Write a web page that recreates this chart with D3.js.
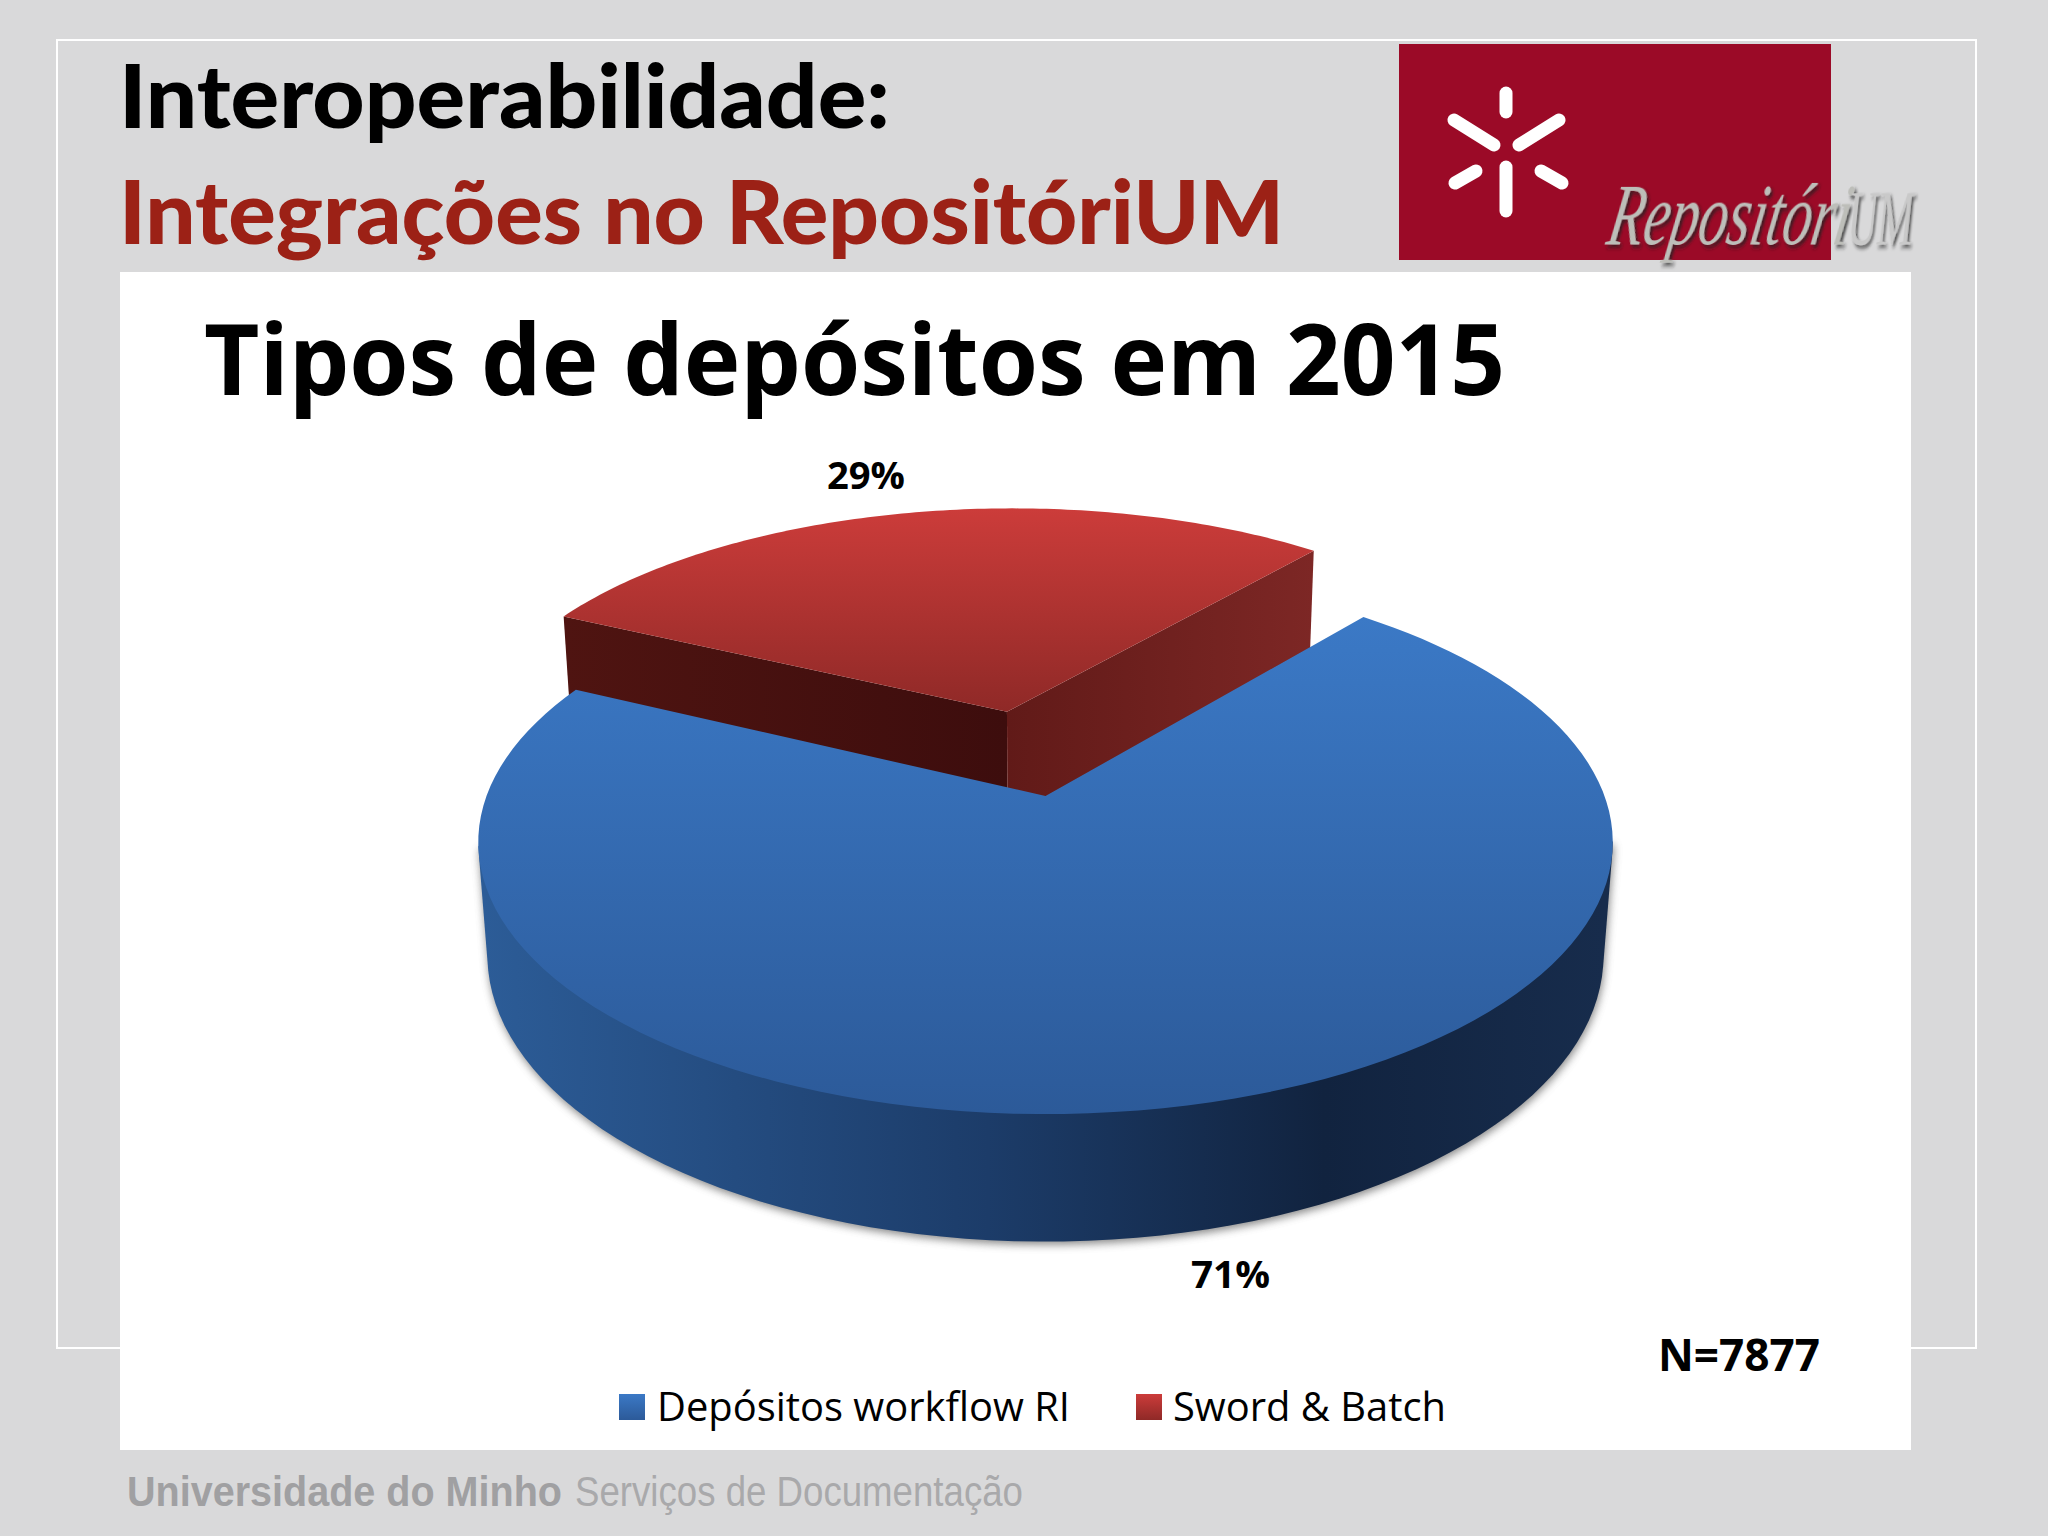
<!DOCTYPE html>
<html>
<head>
<meta charset="utf-8">
<style>
  html, body { margin: 0; padding: 0; background: #d9d9da; }
  svg { display: block; }
  text { font-family: "Open Sans", sans-serif; }
</style>
<script src="https://cdn.jsdelivr.net/npm/d3@7"></script>
</head>
<body>
<svg id="chart" width="2048" height="1536"></svg>
<script>
var categories = ["Depósitos workflow RI", "Sword & Batch"];
var values = [71, 29];
var valueLabels = ["71%", "29%"];
var sampleSize = "N=7877";
var slideTitle = "Interoperabilidade:";
var slideSubtitle = "Integrações no RepositóriUM";
var chartTitle = "Tipos de depósitos em 2015";
var footerBold = "Universidade do Minho";
var footerLight = "Serviços de Documentação";

var svg = d3.select("#chart");
var defs = svg.append("defs");

var addGradient = function (id, stops, horizontal, userSpace) {
    var g = defs.append("linearGradient").attr("id", id);
    if (horizontal) {
        g.attr("x1", userSpace ? userSpace[0] : 0).attr("x2", userSpace ? userSpace[1] : 1).attr("y1", 0).attr("y2", 0);
    } else {
        g.attr("x1", 0).attr("x2", 0).attr("y1", 0).attr("y2", 1);
    }
    if (userSpace) g.attr("gradientUnits", "userSpaceOnUse");
    stops.forEach(function (s) {
        g.append("stop").attr("offset", s[0]).attr("stop-color", s[1]);
    });
};
addGradient("blueTop", [[0, "#3b79c6"], [1, "#2c5a99"]]);
addGradient("redTop", [[0, "#cc3c3a"], [1, "#8f2927"]]);
addGradient("blueSide", [[0, "#2c5c97"], [0.45, "#1c3c69"], [0.75, "#11233f"], [1, "#172c4c"]], true, [484, 1604]);
addGradient("redLeftWall", [[0, "#4f1411"], [1, "#3d0d0d"]], true);
addGradient("redRightWall", [[0, "#611a18"], [1, "#7d2725"]], true);

var shadow = defs.append("filter").attr("id", "softShadow")
    .attr("x", "-5%").attr("y", "-5%").attr("width", "110%").attr("height", "110%");
shadow.append("feGaussianBlur").attr("stdDeviation", 4);

var logoShadow = defs.append("filter").attr("id", "logoShadow")
    .attr("x", "-10%").attr("y", "-20%").attr("width", "120%").attr("height", "140%");
logoShadow.append("feDropShadow").attr("dx", 4).attr("dy", 3).attr("stdDeviation", 2)
    .attr("flood-color", "#222").attr("flood-opacity", 0.75);

// slide background
svg.append("rect").attr("width", 2048).attr("height", 1536).attr("fill", "#d9d9da");
svg.append("rect").attr("x", 57).attr("y", 40).attr("width", 1919).attr("height", 1308)
    .attr("fill", "none").attr("stroke", "#ffffff").attr("stroke-width", 2);
svg.append("rect").attr("x", 120).attr("y", 272).attr("width", 1791).attr("height", 1178).attr("fill", "#ffffff");

// logo
var logo = svg.append("g");
logo.append("rect").attr("x", 1399).attr("y", 44).attr("width", 432).attr("height", 216).attr("fill", "#9b0a27");
var logoBars = [[1506, 93, 1506, 112], [1506, 167, 1506, 211], [1454, 120, 1494, 145], [1559, 120, 1519, 145], [1455, 183, 1476, 171], [1562, 183, 1541, 171]];
logo.selectAll("line").data(logoBars).enter().append("line")
    .attr("x1", function (d) { return d[0]; })
    .attr("y1", function (d) { return d[1]; })
    .attr("x2", function (d) { return d[2]; })
    .attr("y2", function (d) { return d[3]; })
    .attr("stroke", "#ffffff").attr("stroke-width", 13).attr("stroke-linecap", "round");
logo.append("text").attr("transform", "translate(1605,244) skewX(-10) scale(0.66,1)")
    .attr("font-size", 88).attr("font-style", "italic").style("font-family", "'Liberation Serif', serif")
    .attr("fill", "#bdbeb9").attr("filter", "url(#logoShadow)").text("Repositóri");
logo.append("text").attr("transform", "translate(1846,244) skewX(-6) scale(0.52,1)")
    .attr("font-size", 78).style("font-family", "'Liberation Serif', serif")
    .attr("fill", "#c9c9c9").attr("filter", "url(#logoShadow)").text("UM");

// texts
var addText = function (str, x, y, len, size, weight, color, family) {
    var t = svg.append("text").attr("x", x).attr("y", y)
        .attr("textLength", len).attr("lengthAdjust", "spacingAndGlyphs")
        .attr("font-size", size).attr("font-weight", weight).attr("fill", color).text(str);
    if (family) t.style("font-family", family);
    return t;
};
addText(slideTitle, 119, 128, 771, 88, 900, "#000000", "Lato, sans-serif");
addText(slideSubtitle, 119, 244, 1165, 88, 900, "#9c2116", "Lato, sans-serif");
addText(chartTitle, 204, 395, 1301, 98, 700, "#000000");
addText(sampleSize, 1658, 1371, 162, 44, 700, "#000000");
addText(footerBold, 127, 1506, 435, 42, 700, "#a0a0a2", "'Liberation Sans', sans-serif");
addText(footerLight, 575, 1506, 448, 42, 400, "#a9a9ab", "'Liberation Sans Narrow', 'Liberation Sans', sans-serif");

// pie: disc coordinates (u right, v toward the viewer, h down the side) to screen
var cx = 1045.5, cy = 796, radiusX = 559, radiusY = 264, persp = 0.17, depthY = 113, depthW = 0.016;
var project = function (u, v, h) {
    var w = 1 - persp * v + depthW * h;
    return [cx + radiusX * u / w, cy + (radiusY * v + depthY * h) / w];
};

var startAngle = 40 * Math.PI / 180;
var pie = d3.pie().sort(null).startAngle(startAngle).endAngle(startAngle + 2 * Math.PI);
var arcs = pie(values);
var explode = [0, 0.345];
var line = d3.line();

var offsetOf = function (d, i) {
    var mid = (d.startAngle + d.endAngle) / 2;
    return [explode[i] * Math.sin(mid), -explode[i] * Math.cos(mid)];
};
var arcPoints = function (d, i, h) {
    var off = offsetOf(d, i);
    var steps = 120;
    return d3.range(steps + 1).map(function (s) {
        var a = d.startAngle + (d.endAngle - d.startAngle) * s / steps;
        return project(off[0] + Math.sin(a), off[1] - Math.cos(a), h);
    });
};
var apexPoint = function (d, i, h) {
    var off = offsetOf(d, i);
    return project(off[0], off[1], h);
};

var pieG = svg.append("g");

// outline of the disc side: hull of the front half of both rims
var blueTopArc = arcPoints(arcs[0], 0, 0);
var blueBottom = arcPoints(arcs[0], 0, 1);
var frontY = cy + 40;
var sideHull = d3.polygonHull(blueTopArc.filter(function (p) { return p[1] > frontY; })
    .concat(blueBottom.filter(function (p) { return p[1] > frontY; })));

// grey shadow below the disc
pieG.append("path")
    .attr("d", line(sideHull) + "Z")
    .attr("fill", "#5f5f5f").attr("opacity", 0.75)
    .attr("transform", "translate(1,3)")
    .attr("filter", "url(#softShadow)");

// red slice: two cut walls, then the top
var redTopArc = arcPoints(arcs[1], 1, 0);
var redApexTop = apexPoint(arcs[1], 1, 0), redApexBottom = apexPoint(arcs[1], 1, 1);
var redStartTop = redTopArc[0], redEndTop = redTopArc[redTopArc.length - 1];
var redBottomArc = arcPoints(arcs[1], 1, 1);
var redStartBottom = redBottomArc[0], redEndBottom = redBottomArc[redBottomArc.length - 1];
pieG.append("path")
    .attr("d", line([redStartTop, redApexTop, redApexBottom, redStartBottom]) + "Z")
    .attr("fill", "url(#redLeftWall)");
pieG.append("path")
    .attr("d", line([redEndTop, redApexTop, redApexBottom, redEndBottom]) + "Z")
    .attr("fill", "url(#redRightWall)");
pieG.append("path")
    .attr("d", line(redTopArc.concat([redApexTop])) + "Z")
    .attr("fill", "url(#redTop)");

// blue slice: side, then the top
pieG.append("path")
    .attr("d", line(sideHull) + "Z")
    .attr("fill", "url(#blueSide)");
pieG.append("path")
    .attr("d", line(blueTopArc.concat([apexPoint(arcs[0], 0, 0)])) + "Z")
    .attr("fill", "url(#blueTop)");

// value labels
addText(valueLabels[1], 827, 489, 78, 38, 700, "#000000");
addText(valueLabels[0], 1191, 1288, 79, 38, 700, "#000000");

// legend
var legendX = d3.scaleOrdinal().domain(categories).range([619, 1136]);
var legendLen = [413, 273];
var legendFill = ["url(#blueTop)", "url(#redTop)"];
var legend = svg.append("g").selectAll("g").data(categories).enter().append("g");
legend.append("rect")
    .attr("x", function (d) { return legendX(d); })
    .attr("y", 1394).attr("width", 26).attr("height", 26)
    .attr("fill", function (d, i) { return legendFill[i]; });
legend.append("text")
    .attr("x", function (d) { return legendX(d) + (d === categories[0] ? 38 : 37); })
    .attr("y", 1421)
    .attr("textLength", function (d, i) { return legendLen[i]; })
    .attr("lengthAdjust", "spacingAndGlyphs")
    .attr("font-size", 40).attr("fill", "#000000")
    .text(function (d) { return d; });
</script>
</body>
</html>
